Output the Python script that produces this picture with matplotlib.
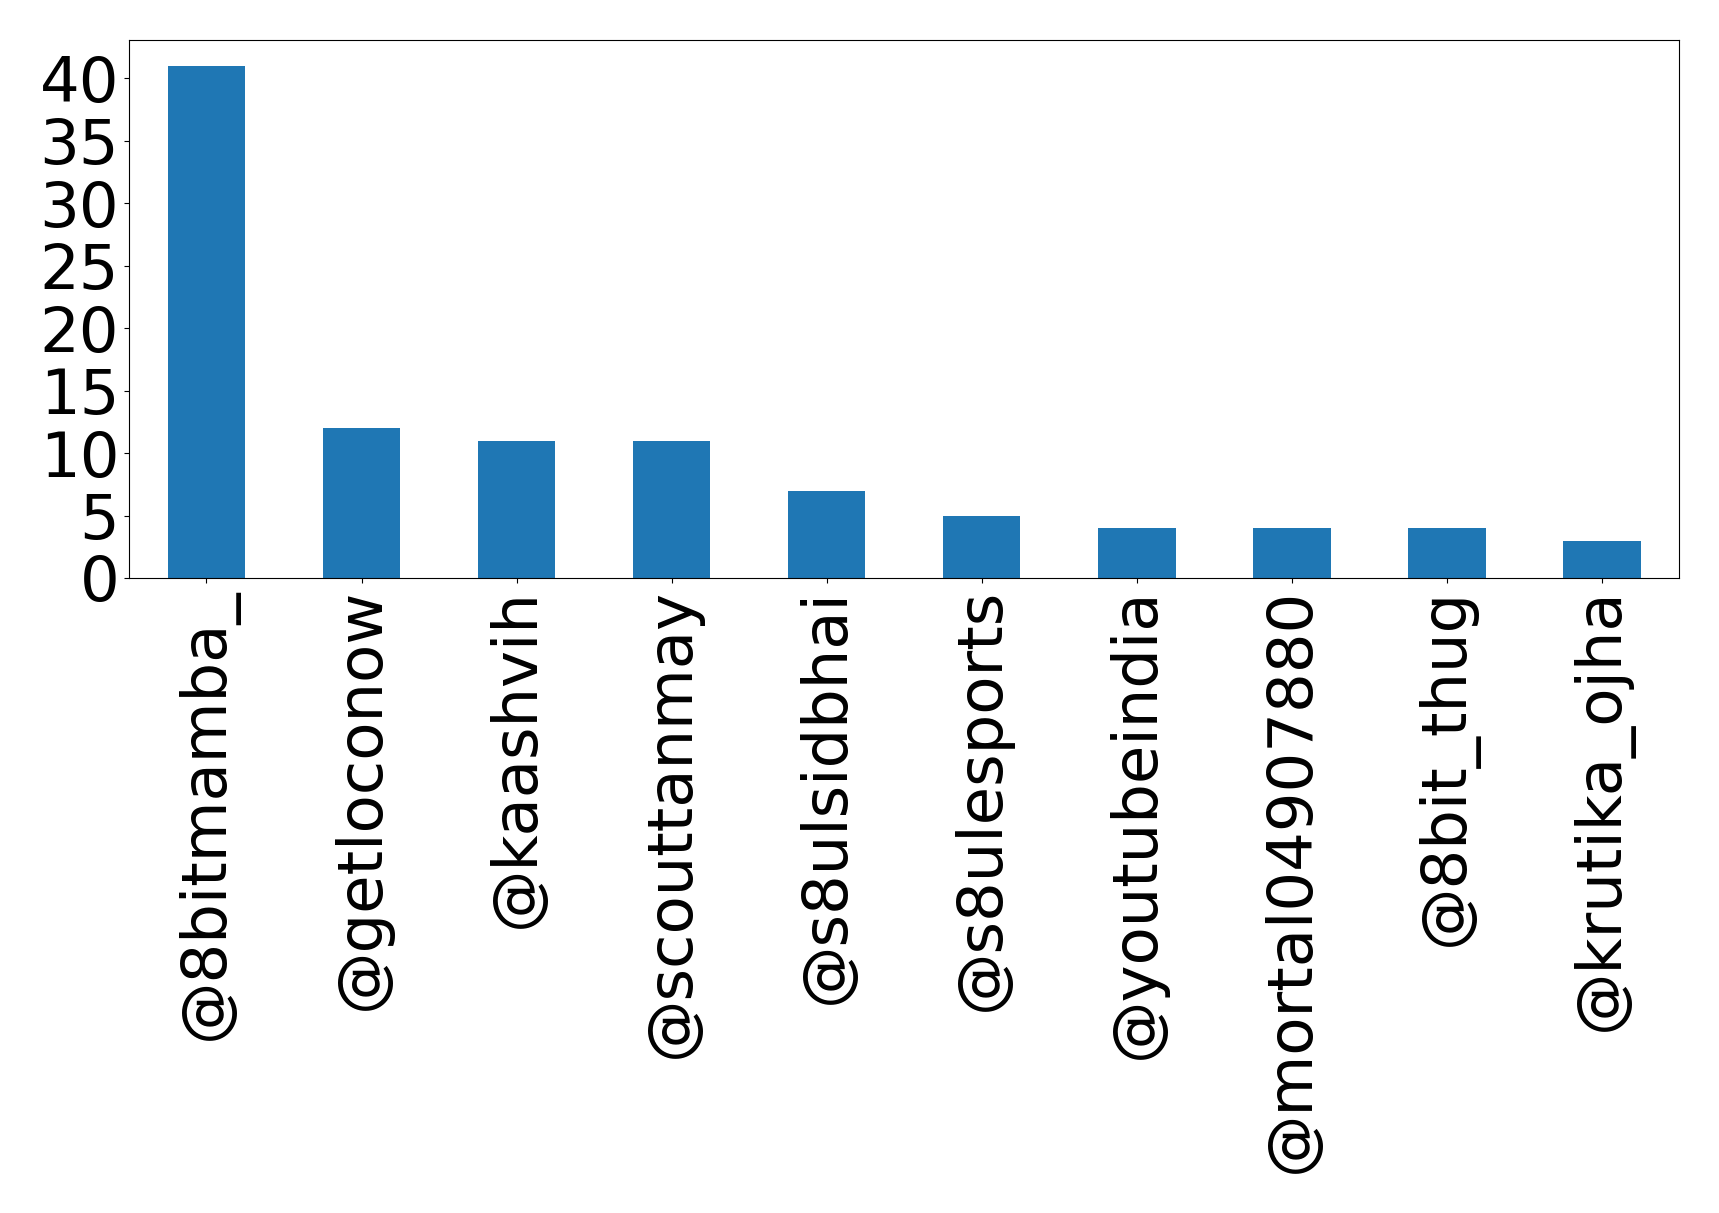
import matplotlib
matplotlib.use("Agg")
import matplotlib.pyplot as plt
import numpy as np

users = ["@8bitmamba_", "@getloconow", "@kaashvih", "@scouttanmay", "@s8ulsidbhai",
         "@s8ulesports", "@youtubeindia", "@mortal04907880", "@8bit_thug", "@krutika_ojha"]
counts = [41, 12, 11, 11, 7, 5, 4, 4, 4, 3]

fig = plt.figure(figsize=(17.19, 12.13), dpi=100)
ax = fig.add_axes([0.075, 0.5235, 0.902, 0.4435])
x = np.arange(len(users))
ax.bar(x, counts, width=0.5, color="#1f77b4")
ax.set_xlim(-0.5, len(users) - 0.5)
ax.set_ylim(0, 41 * 1.05)
ax.set_xticks(x)
ax.set_xticklabels(users, rotation=90, fontsize=45)
ax.set_yticks(range(0, 41, 5))
ax.tick_params(axis="y", labelsize=45)
fig.savefig("out.png", dpi=100)
